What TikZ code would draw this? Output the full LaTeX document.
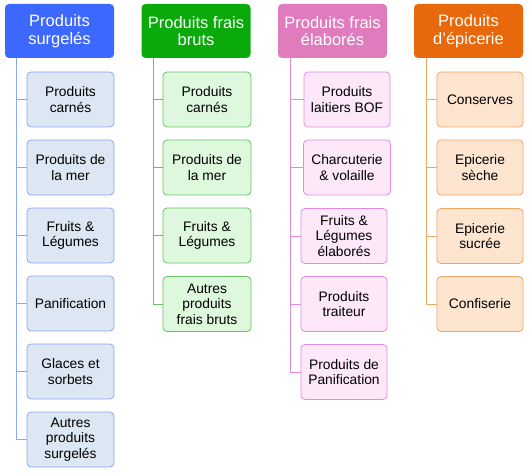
\documentclass[tikz,border=0pt]{standalone}
\usepackage{fontspec}
\setmainfont{Liberation Sans}
\usetikzlibrary{positioning,calc}
\definecolor{cSurH}{HTML}{3D68FF}
\definecolor{cSurF}{HTML}{DDE6F3}
\definecolor{cSurL}{HTML}{88A8F4}
\definecolor{cBruH}{HTML}{0BAA0B}
\definecolor{cBruF}{HTML}{DEF8DE}
\definecolor{cBruL}{HTML}{66C266}
\definecolor{cElaH}{HTML}{E07CBE}
\definecolor{cElaF}{HTML}{FDE8FA}
\definecolor{cElaL}{HTML}{E58ADE}
\definecolor{cEpiH}{HTML}{E8680C}
\definecolor{cEpiF}{HTML}{FDE5D0}
\definecolor{cEpiL}{HTML}{F2A462}

\begin{document}
\begin{tikzpicture}[x=1pt,y=-1pt,
  hd/.style={rounded corners=4pt,align=center,text=white,
    font=\fontsize{16.5}{17.5}\selectfont,minimum width=109pt,
    minimum height=54pt,inner sep=2pt},
  it/.style={draw,rounded corners=4pt,line width=0.8pt,align=center,
    font=\fontsize{13.8}{15.6}\selectfont,minimum width=87pt,
    minimum height=55pt,inner sep=1pt},
  ln/.style={line width=0.8pt}]

  \useasboundingbox (0,0) rectangle (529,473);

  % headers
  \node[hd,fill=cSurH] (hSur) at (59.5,31) {Produits\\surgelés};
  \node[hd,fill=cBruH] (hBru) at (196,31) {Produits frais\\bruts};
  \node[hd,fill=cElaH] (hEla) at (332.5,31) {Produits frais\\élaborés};
  \node[hd,fill=cEpiH] (hEpi) at (468.5,31) {Produits\\d\char39épicerie};

  % produits surgeles
  \node[it,fill=cSurF,draw=cSurL] (sur1) at (70.5,99.5) {Produits\\carnés};
  \node[it,fill=cSurF,draw=cSurL] (sur2) at (70.5,167.5) {Produits de\\la mer};
  \node[it,fill=cSurF,draw=cSurL] (sur3) at (70.5,235.5) {Fruits \&\\Légumes};
  \node[it,fill=cSurF,draw=cSurL] (sur4) at (70.5,303.5) {Panification};
  \node[it,fill=cSurF,draw=cSurL] (sur5) at (70.5,371.5) {Glaces et\\sorbets};
  \node[it,fill=cSurF,draw=cSurL] (sur6) at (70.5,439.5) {Autres\\produits\\surgelés};

  % produits frais bruts
  \node[it,fill=cBruF,draw=cBruL,minimum width=88pt] (bru1) at (207,99.5) {Produits\\carnés};
  \node[it,fill=cBruF,draw=cBruL,minimum width=88pt] (bru2) at (207,167.5) {Produits de\\la mer};
  \node[it,fill=cBruF,draw=cBruL,minimum width=88pt] (bru3) at (207,235.5) {Fruits \&\\Légumes};
  \node[it,fill=cBruF,draw=cBruL,minimum width=88pt] (bru4) at (207,304) {Autres\\produits\\frais bruts};

  % produits frais elabores
  \node[it,fill=cElaF,draw=cElaL,minimum width=86pt] (ela1) at (347,99.5) {Produits\\laitiers BOF};
  \node[it,fill=cElaF,draw=cElaL,minimum width=87pt] (ela2) at (347,167.5) {Charcuterie\\\& volaille};
  \node[it,fill=cElaF,draw=cElaL,minimum width=86pt] (ela3) at (344,236) {Fruits \&\\Légumes\\élaborés};
  \node[it,fill=cElaF,draw=cElaL,minimum width=86pt] (ela4) at (344,304) {Produits\\traiteur};
  \node[it,fill=cElaF,draw=cElaL,minimum width=86pt] (ela5) at (344,372) {Produits de\\Panification};

  % produits d'epicerie
  \node[it,fill=cEpiF,draw=cEpiL,minimum width=86pt] (epi1) at (480,99.5) {Conserves};
  \node[it,fill=cEpiF,draw=cEpiL,minimum width=86pt] (epi2) at (480,167.5) {Epicerie\\sèche};
  \node[it,fill=cEpiF,draw=cEpiL,minimum width=86pt] (epi3) at (480,236) {Epicerie\\sucrée};
  \node[it,fill=cEpiF,draw=cEpiL,minimum width=86pt] (epi4) at (480,304) {Confiserie};

  % spines
  \coordinate (sSur) at (16,58);
  \coordinate (sBru) at (153,58);
  \coordinate (sEla) at (290,58);
  \coordinate (sEpi) at (426,58);

  \draw[ln,draw=cSurL] (sSur) |- (sur6.west);
  \foreach \i in {1,...,5} \draw[ln,draw=cSurL] (sSur |- sur\i.west) -- (sur\i.west);
  \draw[ln,draw=cBruL] (sBru) |- (bru4.west);
  \foreach \i in {1,...,3} \draw[ln,draw=cBruL] (sBru |- bru\i.west) -- (bru\i.west);
  \draw[ln,draw=cElaL] (sEla) |- (ela5.west);
  \foreach \i in {1,...,4} \draw[ln,draw=cElaL] (sEla |- ela\i.west) -- (ela\i.west);
  \draw[ln,draw=cEpiL] (sEpi) |- (epi4.west);
  \foreach \i in {1,...,3} \draw[ln,draw=cEpiL] (sEpi |- epi\i.west) -- (epi\i.west);
\end{tikzpicture}
\end{document}
